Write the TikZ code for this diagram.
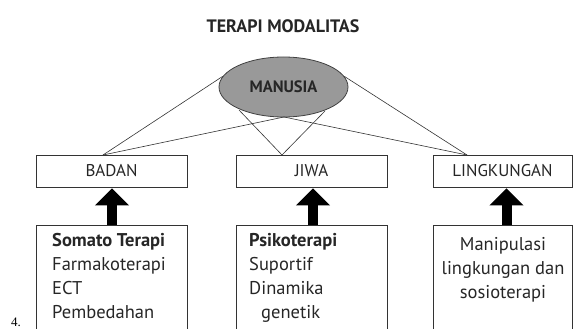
\documentclass[tikz,border=0pt]{standalone}
\usepackage{fontspec}
\setmainfont{PT Sans}
\newfontfamily\serifnum{Liberation Serif}
\usetikzlibrary{arrows.meta,shapes.geometric}
\begin{document}
\begin{tikzpicture}[x=1pt,y=-1pt,
  topbox/.style={draw=black!80,line width=0.8pt,minimum width=151pt,minimum height=32pt,inner sep=0pt,font=\fontsize{17}{18}\selectfont,text=black!85},
  botbox/.style={draw=black!80,line width=0.8pt,minimum width=151pt,minimum height=112pt,anchor=north,inner sep=0pt},
  conn/.style={draw=black!80,line width=0.6pt},
  bigarrow/.style={line width=10pt,-{Triangle[width=33pt,length=17pt]},shorten >=1pt},
  body/.style={font=\fontsize{18.5}{24}\selectfont,text=black!85,align=left}
]
\useasboundingbox (0,0) rectangle (574,329);
\node[font=\bfseries\fontsize{18}{20}\selectfont,text=black!85] (title) at (283,26) {TERAPI MODALITAS};
\node[ellipse,draw=black!75,fill=black!40,line width=0.8pt,minimum width=129pt,minimum height=60pt,inner sep=0pt,font=\bfseries\fontsize{16.5}{18}\selectfont,text=black!85] (man) at (283.5,87) {MANUSIA};
\node[topbox] (badan) at (111.5,171) {BADAN};
\node[topbox] (jiwa) at (311.5,171) {JIWA};
\node[topbox,minimum width=139pt] (ling) at (502.5,171) {LINGKUNGAN};
\node[botbox] (b1) at (111.5,225) {};
\node[botbox] (b2) at (311.5,225) {};
\node[botbox,minimum width=139pt] (b3) at (502.5,225) {};
\coordinate (tb) at (103,155);
\coordinate (tj) at (282,155);
\coordinate (tl) at (467,155);
\coordinate (mb) at (284,117);
\coordinate (ml) at (239,110);
\coordinate (mr) at (325,111);
\draw[conn] (man.170) -- (tb);
\draw[conn] (man.10) -- (tl);
\draw[conn] (mb) -- (tb);
\draw[conn] (mb) -- (tl);
\draw[conn] (ml) -- (tj);
\draw[conn] (mr) -- (tj);
\draw[bigarrow] ([xshift=0.5pt]b1.north) -- ([xshift=0.5pt]badan.south);
\draw[bigarrow] ([xshift=1.5pt]b2.north) -- ([xshift=1.5pt]jiwa.south);
\draw[bigarrow] ([xshift=4pt]b3.north) -- ([xshift=4pt]ling.south);
\node[body,anchor=north west,inner sep=0pt] (t1) at (52,233) {\textbf{Somato Terapi}\\Farmakoterapi\\ECT\\Pembedahan};
\node[body,anchor=north west,inner sep=0pt] (t2) at (249,233) {\textbf{Psikoterapi}\\Suportif\\Dinamika\\\hspace*{12pt}genetik};
\node[body,align=center,inner sep=0pt] (t3) at (503,270) {Manipulasi\\lingkungan dan\\sosioterapi};
\node[font=\serifnum\fontsize{13}{14}\selectfont] (num) at (16,322) {4.};
\end{tikzpicture}
\end{document}
